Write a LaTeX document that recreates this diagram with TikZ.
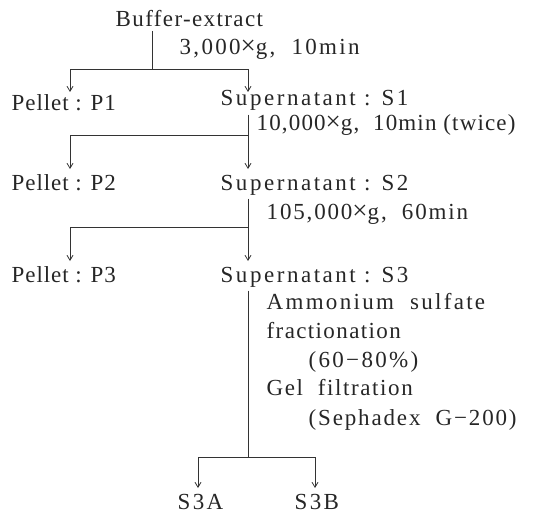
\documentclass[tikz,border=0pt]{standalone}
\usepackage{fontspec}
\setmainfont{Liberation Serif}
\usetikzlibrary{arrows.meta}
\newcommand{\tms}{{\fontsize{27}{22}\selectfont ×}}
\tikzset{
  lbl/.style={anchor=base west, inner sep=0.5pt, text=black!85, ls=6},
  ls/.style={font=\fontsize{23}{24}\selectfont\addfontfeature{LetterSpace=#1}},
  link/.style={draw=black!80, line width=0.8pt},
  arr/.style={link, -{Straight Barb[length=5pt,width=6pt]}}
}
\begin{document}
\begin{tikzpicture}[x=1pt,y=-1pt]
\useasboundingbox (0,0) rectangle (534,513);
% texts
\node[lbl] (be) at (115,27) {Buffer-extract};
\node[lbl, ls=10] (c1) at (179,55) {3,000\tms g,\ \ 10min};
\node[lbl, ls=4] (p1) at (11,111) {Pellet : P1};
\node[lbl, ls=11] (s1) at (220,106) {Supernatant : S1};
\node[lbl, ls=5] (c2) at (256,131) {10,000\tms g,\ \ 10min (twice)};
\node[lbl, ls=4] (p2) at (11,190) {Pellet : P2};
\node[lbl, ls=11] (s2) at (220,190) {Supernatant : S2};
\node[lbl, ls=8] (c3) at (266,219) {105,000\tms g,\ \ 60min};
\node[lbl, ls=4] (p3) at (11,282) {Pellet : P3};
\node[lbl, ls=11] (s3) at (220,282) {Supernatant : S3};
\node[lbl, ls=10] (c4a) at (266,309) {Ammonium\ \ sulfate};
\node[lbl] (c4b) at (266,338) {fractionation};
\node[lbl, ls=10] (c4c) at (308,367) {(60−80\%)};
\node[lbl, ls=7] (c4d) at (266,395) {Gel\ \ filtration};
\node[lbl, ls=8] (c4e) at (308,425) {(Sephadex\ \ G−200)};
\node[lbl, ls=10] (s3a) at (177,509) {S3A};
\node[lbl, ls=10] (s3b) at (294,509) {S3B};
% junctions and arrow tips
\coordinate (j1) at (152,69);
\coordinate (t1a) at (70,92);
\coordinate (t1b) at (248,92);
\coordinate (j2) at (248,135);
\coordinate (t2a) at (70,169);
\coordinate (t2b) at (248,169);
\coordinate (j3) at (248,227);
\coordinate (t3a) at (70,261);
\coordinate (t3b) at (248,261);
\coordinate (j4) at (248,457);
\coordinate (t4a) at (198,488);
\coordinate (t4b) at (315,488);
% connectors
\draw[link] ([yshift=-3pt]j1 |- be.south) -- (j1);
\draw[arr] (j1) -| (t1a);
\draw[arr] (j1) -| (t1b);
\draw[link] ([yshift=-3pt]j2 |- s1.south) -- (j2);
\draw[arr] (j2) -| (t2a);
\draw[arr] (j2) -- (t2b);
\draw[link] ([yshift=-3pt]j3 |- s2.south) -- (j3);
\draw[arr] (j3) -| (t3a);
\draw[arr] (j3) -- (t3b);
\draw[link] ([yshift=-3pt]j4 |- s3.south) -- (j4);
\draw[arr] (j4) -| (t4a);
\draw[arr] (j4) -| (t4b);
\end{tikzpicture}
\end{document}
